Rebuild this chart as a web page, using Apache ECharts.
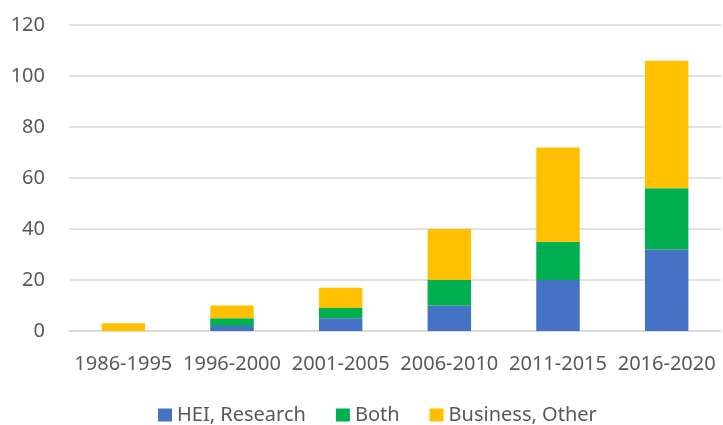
<!DOCTYPE html>
<html>
<head>
<meta charset="utf-8">
<script src="https://cdn.jsdelivr.net/npm/echarts@6/dist/echarts.min.js"></script>
<style>
  html, body { margin: 0; padding: 0; background: #fff; }
  #chart { width: 723px; height: 425px; }
</style>
</head>
<body>
<div id="chart"></div>
<script>
// chart data
var categories = ['1986-1995', '1996-2000', '2001-2005', '2006-2010', '2011-2015', '2016-2020']
var seriesNames = ['HEI, Research', 'Both', 'Business, Other']
var heiResearch = [0, 2, 5, 10, 20, 32]
var both = [0, 3, 4, 10, 15, 24]
var businessOther = [3, 5, 8, 20, 37, 50]
var yTicks = [0, 20, 40, 60, 80, 100, 120]

var colors = ['#4472C4', '#00B050', '#FFC000']
var font = '"Noto Sans", sans-serif'

var chart = echarts.init(document.getElementById('chart'))

function barSeries(name, data, color) {
    return {
        name: name,
        type: 'bar',
        stack: 'total',
        barWidth: '40%',
        itemStyle: { color: color },
        data: data,
        animation: false
    }
}

chart.setOption({
    animation: false,
    textStyle: { fontFamily: font },
    grid: {
        left: 69,
        right: 2,
        top: 25,
        bottom: 94,
        containLabel: false
    },
    legend: {
        data: seriesNames,
        bottom: -5,
        left: 153,
        itemWidth: 14,
        itemHeight: 13,
        itemGap: 30,
        icon: 'rect',
        textStyle: { fontSize: 20, color: '#595959', fontFamily: font }
    },
    xAxis: {
        type: 'category',
        data: categories,
        axisTick: { show: false },
        axisLine: { lineStyle: { color: '#D9D9D9', width: 1.5 } },
        axisLabel: { fontSize: 20, color: '#595959', margin: 23, interval: 0 }
    },
    yAxis: {
        type: 'value',
        min: yTicks[0],
        max: yTicks[yTicks.length - 1],
        interval: yTicks[1] - yTicks[0],
        axisLine: { show: false },
        axisTick: { show: false },
        splitLine: { lineStyle: { color: '#D9D9D9', width: 1.5 } },
        axisLabel: { fontSize: 20, color: '#595959', margin: 24 }
    },
    series: [
        barSeries(seriesNames[0], heiResearch, colors[0]),
        barSeries(seriesNames[1], both, colors[1]),
        barSeries(seriesNames[2], businessOther, colors[2])
    ]
})
</script>
</body>
</html>
